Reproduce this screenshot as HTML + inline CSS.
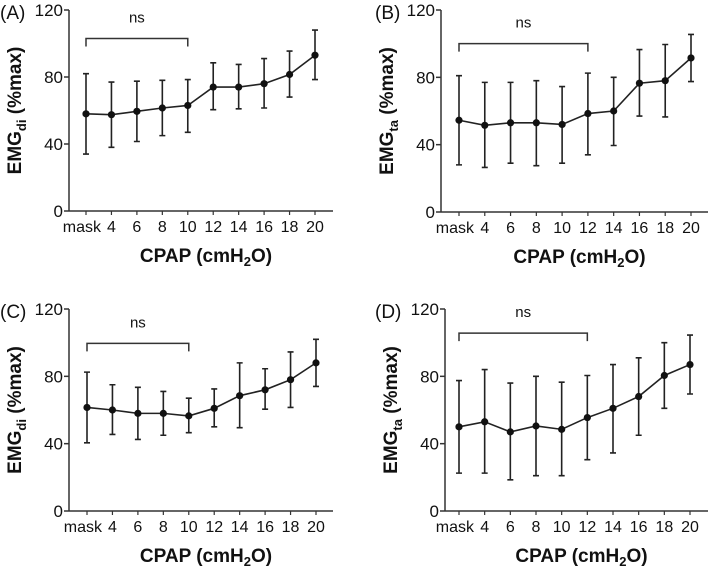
<!DOCTYPE html>
<html><head><meta charset="utf-8"><style>
body{margin:0;background:#fff}
svg{display:block;font-family:"Liberation Sans",Arial,sans-serif}
</style></head><body>
<svg id="c" width="709" height="567" viewBox="0 0 709 567"></svg>
<script>
const categories=["mask","4","6","8","10","12","14","16","18","20"];
const yTicks=[0,40,80,120];
const meanA=[58,57.5,59.5,61.5,63,74,74,76,81.5,93];
const upA=[82,77,77.5,78,78.5,88.5,87.5,91,95.5,108];
const loA=[34,38,41.5,45,47,60.5,61,61.5,68,78.5];
const meanB=[54.5,51.5,53,53,52,58.5,60,76.5,78,91.5];
const upB=[81,77,77,78,74.5,82.5,80,96.5,99.5,105.5];
const loB=[28,26.5,29,27.5,29,34,39.5,57,56.5,77.5];
const meanC=[61.5,60,58,58,56.5,61,68.5,72,78,88];
const upC=[82.5,75,73.5,71,67,72.5,88,84.5,94.5,102];
const loC=[40.5,45.5,42.5,45,46.5,50,49.5,60.5,61.5,74];
const meanD=[50,53,47,50.5,48.5,55.5,61,68,80.5,87];
const upD=[77.5,84,76,80,76.5,80.5,87,91,100,104.5];
const loD=[22.5,22.5,18.5,21,21,30.5,34.5,45,61,69.5];
const NS="http://www.w3.org/2000/svg";
const svg=document.getElementById('c');
function mk(t,a,p){const e=document.createElementNS(NS,t);for(const k in a)e.setAttribute(k,a[k]);(p||svg).appendChild(e);return e;}
function panel(o){
 const g=mk('g',{});
 
 
 const sy=v=>o.y0-(v/120)*(o.y0-o.y1);
 const sx=i=>o.xm+i*(o.x20-o.xm)/9;
 let l=mk('text',{x:o.lx,y:o.y1+9,'font-size':19,fill:'#111'},g);l.textContent='('+o.id+')';
 
 let ya=mk('line',{x1:o.ax,y1:o.y1,x2:o.ax,y2:o.y0,stroke:'#333','stroke-width':1.5},g);
 
 let xa=mk('line',{x1:o.ax,y1:o.y0,x2:o.xend,y2:o.y0,stroke:'#333','stroke-width':1.5},g);
 
 yTicks.forEach(v=>{
  mk('line',{x1:o.ax-5,y1:sy(v),x2:o.ax,y2:sy(v),stroke:'#333','stroke-width':1.5},g);
  const t=mk('text',{x:o.ax-6,y:sy(v)+6,'font-size':17,'text-anchor':'end',fill:'#111'},g);t.textContent=v;
  
 });
 categories.forEach((c,i)=>{
  mk('line',{x1:sx(i),y1:o.y0,x2:sx(i),y2:o.y0+4,stroke:'#333','stroke-width':1.2},g);
  const t=mk('text',{x:i==0?sx(i)+15:sx(i),y:o.y0+21,'font-size':16,'text-anchor':i==0?'end':'middle',fill:'#111'},g);t.textContent=c;
  
 });
 const yt=mk('text',{transform:`translate(${o.ax-48},${(o.y0+o.y1)/2}) rotate(-90)`,'font-size':19,'font-weight':'bold','text-anchor':'middle',fill:'#111'},g);
 yt.innerHTML='EMG<tspan font-size="13" dy="5">'+o.sub+'</tspan><tspan dy="-5"> (%max)</tspan>';
 
 const xt=mk('text',{x:(o.ax+o.xend)/2+5,y:o.y0+51,'font-size':19,'font-weight':'bold','text-anchor':'middle',fill:'#111'},g);
 xt.innerHTML='CPAP (cmH<tspan font-size="13" dy="4">2</tspan><tspan dy="-4">O)</tspan>';
 
 const bi=o.bEnd, by=sy(o.bVal);
 const br=mk('path',{d:`M${sx(0)},${by+8}V${by}H${sx(bi)}V${by+8}`,fill:'none',stroke:'#333','stroke-width':1.5},g);
 
 const ns=mk('text',{x:(sx(0)+sx(bi))/2,y:by-16,'font-size':15,'text-anchor':'middle',fill:'#111'},g);ns.textContent='ns';
 
 o.mean.forEach((m,i)=>{
  const e=mk('path',{d:`M${sx(i)},${sy(o.up[i])}V${sy(o.lo[i])}M${sx(i)-3},${sy(o.up[i])}h6M${sx(i)-3},${sy(o.lo[i])}h6`,stroke:'#222','stroke-width':1.6,fill:'none'},g);
  
 });
 const ln=mk('polyline',{points:o.mean.map((m,i)=>sx(i)+','+sy(m)).join(' '),fill:'none',stroke:'#222','stroke-width':1.6},g);
 
 o.mean.forEach((m,i)=>{
  const p=mk('circle',{cx:sx(i),cy:sy(m),r:3.6,fill:'#111'},g);
  
 });
}
panel({id:'A',sub:'di',ax:69,y0:211,y1:10,xm:86,x20:315,xend:333,lx:0,bEnd:4,bVal:103,mean:meanA,up:upA,lo:loA});
panel({id:'B',sub:'ta',ax:441,y0:212,y1:10,xm:459,x20:691,xend:708,lx:375,bEnd:5,bVal:100,mean:meanB,up:upB,lo:loB});
panel({id:'C',sub:'di',ax:69,y0:511,y1:309,xm:87,x20:316,xend:333,lx:0,bEnd:4,bVal:99.6,mean:meanC,up:upC,lo:loC});
panel({id:'D',sub:'ta',ax:445,y0:511,y1:309,xm:459,x20:690,xend:708,lx:375,bEnd:5,bVal:105.7,mean:meanD,up:upD,lo:loD});
</script>
</body></html>
